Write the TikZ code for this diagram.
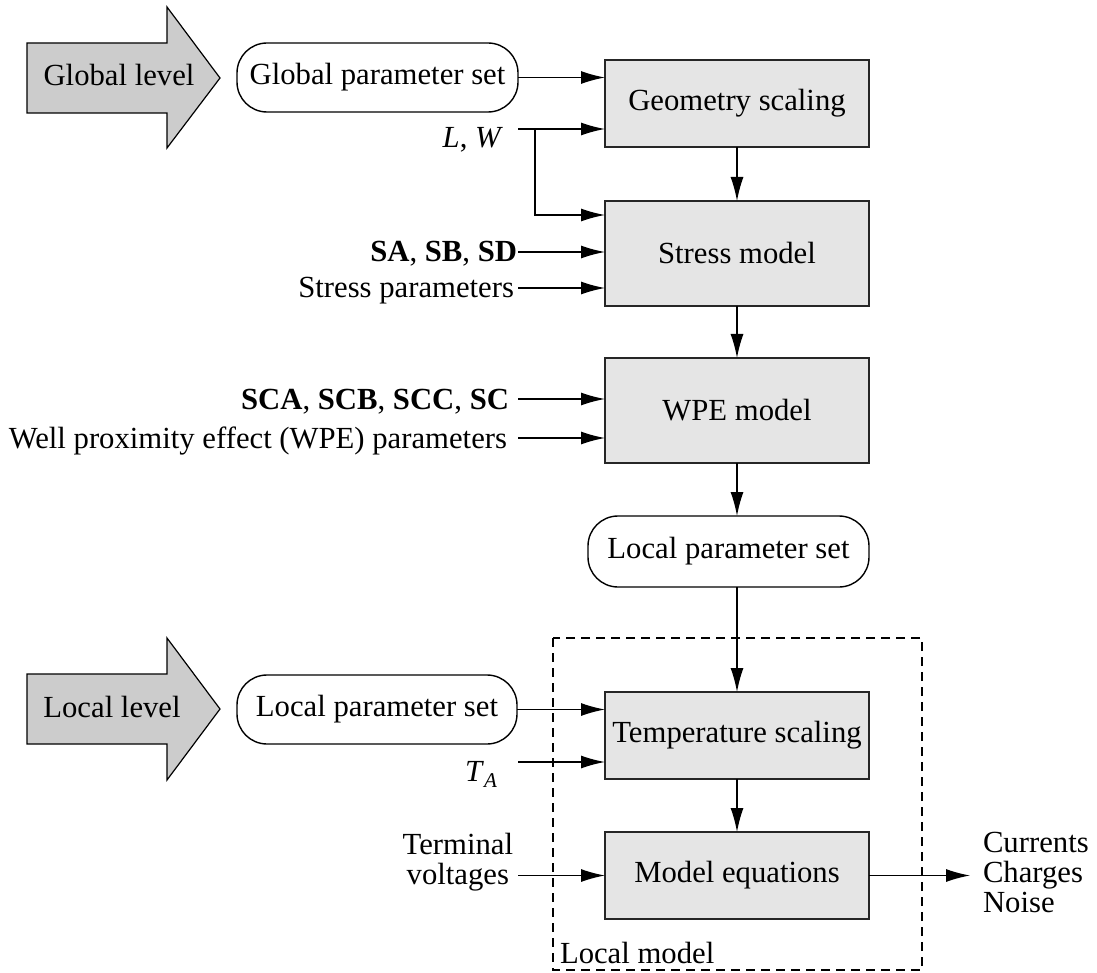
\documentclass[tikz,border=0pt]{standalone}
\usepackage{fontspec}
\setmainfont{Liberation Serif}
\usetikzlibrary{arrows.meta,calc}
\begin{document}
\begin{tikzpicture}[x=1pt,y=-1pt,
  every node/.style={font=\fontsize{30.7}{30}\selectfont, inner sep=0pt, outer sep=0pt},
  box/.style={draw=black!85, line width=1.6pt, fill=black!10, minimum width=264pt},
  pset/.style={draw, line width=1.4pt, rounded corners=30pt, minimum height=69pt},
  conn/.style={line width=1.3pt, -{Latex[length=24pt,width=13pt]}},
  blockarrow/.style={draw, line width=1.2pt, fill=black!20, line join=miter},
  localframe/.style={draw, line width=1.2pt, dash pattern=on 9pt off 6pt}
]
\useasboundingbox (0,0) rectangle (1097,973);

% block arrows
\draw[blockarrow] (27,43) -- (167,43) -- (167,7) -- (220,78) -- (167,148) -- (167,113) -- (27,113) -- cycle;
\node[anchor=base] (glevel) at (119,86) {Global level};
\draw[blockarrow] (27,674) -- (167,674) -- (167,638) -- (220,709) -- (167,780) -- (167,744) -- (27,744) -- cycle;
\node[anchor=base] (llevel) at (112,717) {Local level};

% local model frame
\draw[localframe] (553,638) rectangle (922,970);
\node[anchor=base west] (lmlab) at (560,963) {Local model};

% main boxes
\node[box, minimum height=87pt] (geo) at (737,103.5) {Geometry scaling};
\node[box, minimum height=105pt] (stress) at (737,253.5) {Stress model};
\node[box, minimum height=105pt] (wpe) at (737,410.5) {WPE model};
\node[pset, minimum width=281pt, minimum height=71pt] (lps) at (728.5,551.5) {Local parameter set};
\node[box, minimum height=87pt] (temp) at (737,735.5) {Temperature scaling};
\node[box, minimum height=87pt] (meq) at (737,875.5) {Model equations};

% parameter sets on the left
\node[pset, minimum width=281pt] (gps) at (377.5,77.5) {Global parameter set};
\node[pset, minimum width=280pt] (lps2) at (377,709.5) {Local parameter set};

% input labels
\node[anchor=base east] (lwlab) at (503,148) {\textit{L}, \textit{W}};
\coordinate (lw0) at (518,129);
\coordinate (br) at (535,129);
\node[anchor=base east] (salab) at (517,262) {\textbf{SA}, \textbf{SB}, \textbf{SD}};
\coordinate (sa0) at (518,252);
\node[anchor=base east] (splab) at (514,298) {Stress parameters};
\coordinate (sp0) at (518,288);
\node[anchor=base east] (scalab) at (509,409) {\textbf{SCA}, \textbf{SCB}, \textbf{SCC}, \textbf{SC}};
\coordinate (sca0) at (518,399);
\node[anchor=base east] (wplab) at (507,448) {Well proximity effect (WPE) parameters};
\coordinate (wp0) at (518,438);
\node[anchor=base east] (talab) at (497,781) {\textit{T}\raisebox{-0.22em}{\fontsize{21}{21}\selectfont\textit{A}}};
\coordinate (ta0) at (518,762);
\node[anchor=east, align=center, font=\fontsize{30.7}{30}\selectfont] (tvlab) at (513,862) {Terminal\\voltages};
\coordinate (tv0) at (518,875.5);
\coordinate (out) at (970,875.5);
\node[anchor=west, align=left] (outlab) at (983,872.5) {Currents\\Charges\\Noise};

% connectors
\draw[conn] (gps.east) -- (gps.east -| geo.west);
\draw[conn] (lw0) -- (lw0 -| geo.west);
\draw[conn] (br) |- ($(stress.north west)+(0,14)$);
\draw[conn] (sa0) -- (sa0 -| stress.west);
\draw[conn] (sp0) -- (sp0 -| stress.west);
\draw[conn] (sca0) -- (sca0 -| wpe.west);
\draw[conn] (wp0) -- (wp0 -| wpe.west);
\draw[conn] (geo.south) -- (stress.north);
\draw[conn] (stress.south) -- (wpe.north);
\draw[conn] (wpe.south) -- (wpe.south |- lps.north);
\draw[conn] (lps.south -| temp.north) -- (temp.north);
\draw[conn] (lps2.east) -- (lps2.east -| temp.west);
\draw[conn] (ta0) -- (ta0 -| temp.west);
\draw[conn] (temp.south) -- (meq.north);
\draw[conn] (tv0) -- (meq.west);
\draw[conn] (meq.east) -- (out);
\end{tikzpicture}
\end{document}
